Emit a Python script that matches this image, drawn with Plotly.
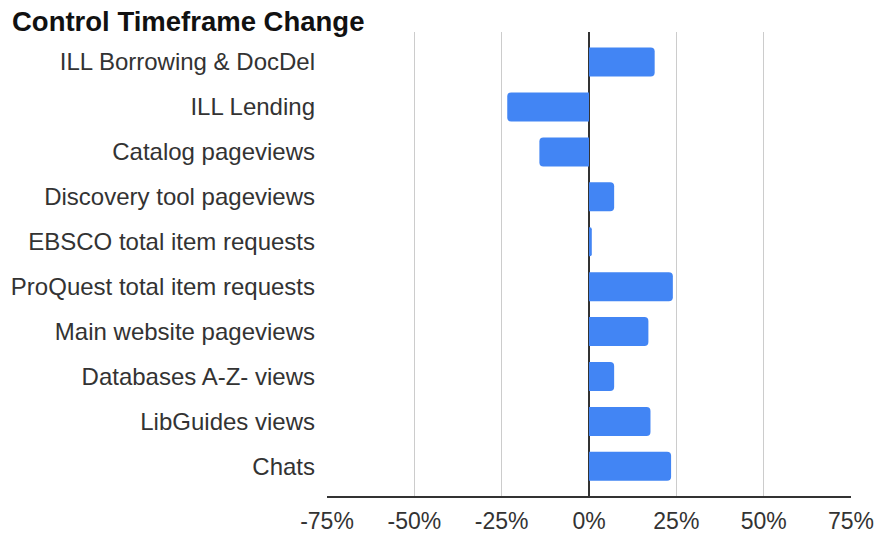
import plotly.graph_objects as go

categories = [
    "ILL Borrowing & DocDel",
    "ILL Lending",
    "Catalog pageviews",
    "Discovery tool pageviews",
    "EBSCO total item requests",
    "ProQuest total item requests",
    "Main website pageviews",
    "Databases A-Z- views",
    "LibGuides views",
    "Chats",
]
change_pct = [18.8, -23.4, -14.2, 7.2, 0.8, 24.0, 17.0, 7.2, 17.6, 23.5]
x_ticks = [-75, -50, -25, 0, 25, 50, 75]
x_tick_labels = ["-75%", "-50%", "-25%", "0%", "25%", "50%", "75%"]
title_text = "Control Timeframe Change"

font_family = "Liberation Sans, Arial, sans-serif"

fig = go.Figure(
    go.Bar(
        x=change_pct,
        y=categories,
        orientation="h",
        marker=dict(color="#4285F4", cornerradius=4, line=dict(width=0)),
        hoverinfo="x+y",
    )
)

fig.update_layout(
    width=877,
    height=535,
    margin=dict(l=327, r=26, t=32, b=39, autoexpand=False),
    paper_bgcolor="white",
    plot_bgcolor="white",
    bargap=0.354,
    showlegend=False,
    font=dict(family=font_family, size=24, color="#333333"),
    title=dict(
        text="<b>" + title_text + "</b>",
        font=dict(family=font_family, size=27.5, color="#111111"),
        xref="container",
        yref="container",
        x=12 / 877,
        xanchor="left",
        y=1 - 21 / 535,
        yanchor="middle",
        pad=dict(l=0, r=0, t=0, b=0),
        automargin=False,
    ),
)

fig.update_xaxes(
    range=[-75, 75],
    tickvals=x_ticks,
    ticktext=x_tick_labels,
    showgrid=True,
    gridcolor="#cccccc",
    gridwidth=1,
    zeroline=True,
    zerolinecolor="#333333",
    zerolinewidth=1.5,
    showline=True,
    linecolor="#333333",
    linewidth=2,
    ticks="",
    ticklabelstandoff=3,
    automargin=False,
    tickfont=dict(family=font_family, size=23, color="#333333"),
    fixedrange=True,
)

fig.update_yaxes(
    type="category",
    categoryorder="array",
    categoryarray=categories,
    range=[9.66, -0.67],
    showgrid=False,
    zeroline=False,
    showline=False,
    ticks="",
    ticklabelstandoff=11,
    automargin=False,
    tickfont=dict(family=font_family, size=24, color="#333333"),
    fixedrange=True,
)

fig.write_html(
    "out.html",
    config={"displayModeBar": False},
    post_script="document.body.style.margin='0';document.body.style.overflow='hidden';",
)
